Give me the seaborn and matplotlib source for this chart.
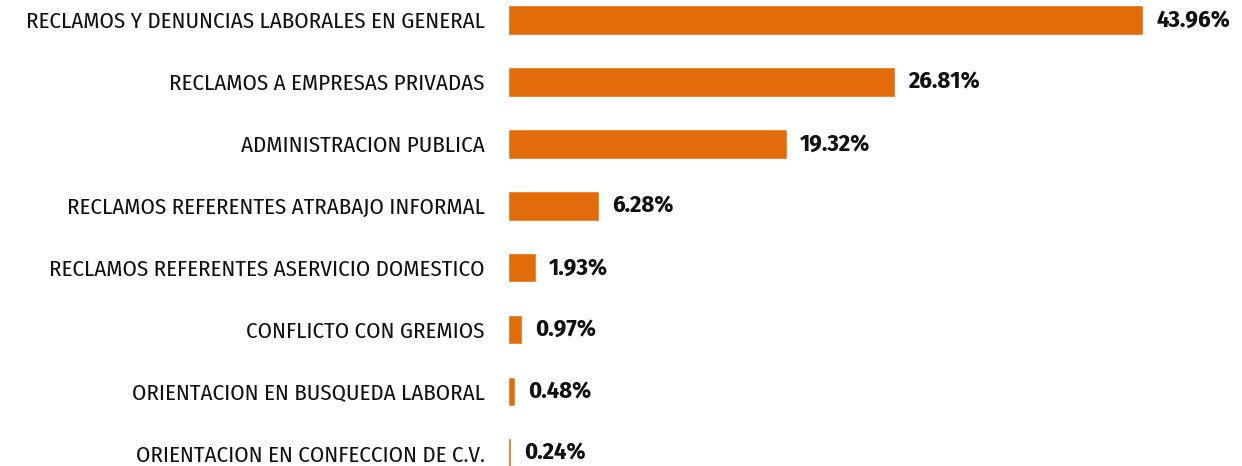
import matplotlib
matplotlib.use("Agg")
import matplotlib.pyplot as plt
import seaborn as sns
import pandas as pd

categories = [
    "RECLAMOS Y DENUNCIAS LABORALES EN GENERAL",
    "RECLAMOS A EMPRESAS PRIVADAS",
    "ADMINISTRACION PUBLICA",
    "RECLAMOS REFERENTES ATRABAJO INFORMAL",
    "RECLAMOS REFERENTES ASERVICIO DOMESTICO",
    "CONFLICTO CON GREMIOS",
    "ORIENTACION EN BUSQUEDA LABORAL",
    "ORIENTACION EN CONFECCION DE C.V.",
]
percentages = [43.96, 26.81, 19.32, 6.28, 1.93, 0.97, 0.48, 0.24]

df = pd.DataFrame({"categoria": categories, "porcentaje": percentages})

sns.set_theme(style="white")
plt.rcParams["font.family"] = ["Fira Sans Condensed", "DejaVu Sans"]

fig = plt.figure(figsize=(12.42, 4.66), dpi=100)
ax = fig.add_axes([508 / 1242, 0, 734 / 1242, 1])

sns.barplot(data=df, x="porcentaje", y="categoria", orient="h",
            color="#E36C0A", saturation=1, width=0.48, ax=ax)

for i, v in enumerate(percentages):
    ax.text(v + 0.9, i, f"{v:.2f}%", va="center", ha="left",
            fontsize=17.5, fontweight="bold", color="#111111", clip_on=False)

ax.set_xlim(0, 734 / 14.45)
ax.set_ylim(7.205, -0.323)
ax.set_xlabel("")
ax.set_ylabel("")
ax.set_xticks([])
ax.tick_params(axis="y", length=0, pad=17, labelsize=16.5, labelcolor="#111111")
sns.despine(ax=ax, left=True, bottom=True)

fig.savefig("out.png", dpi=100)
